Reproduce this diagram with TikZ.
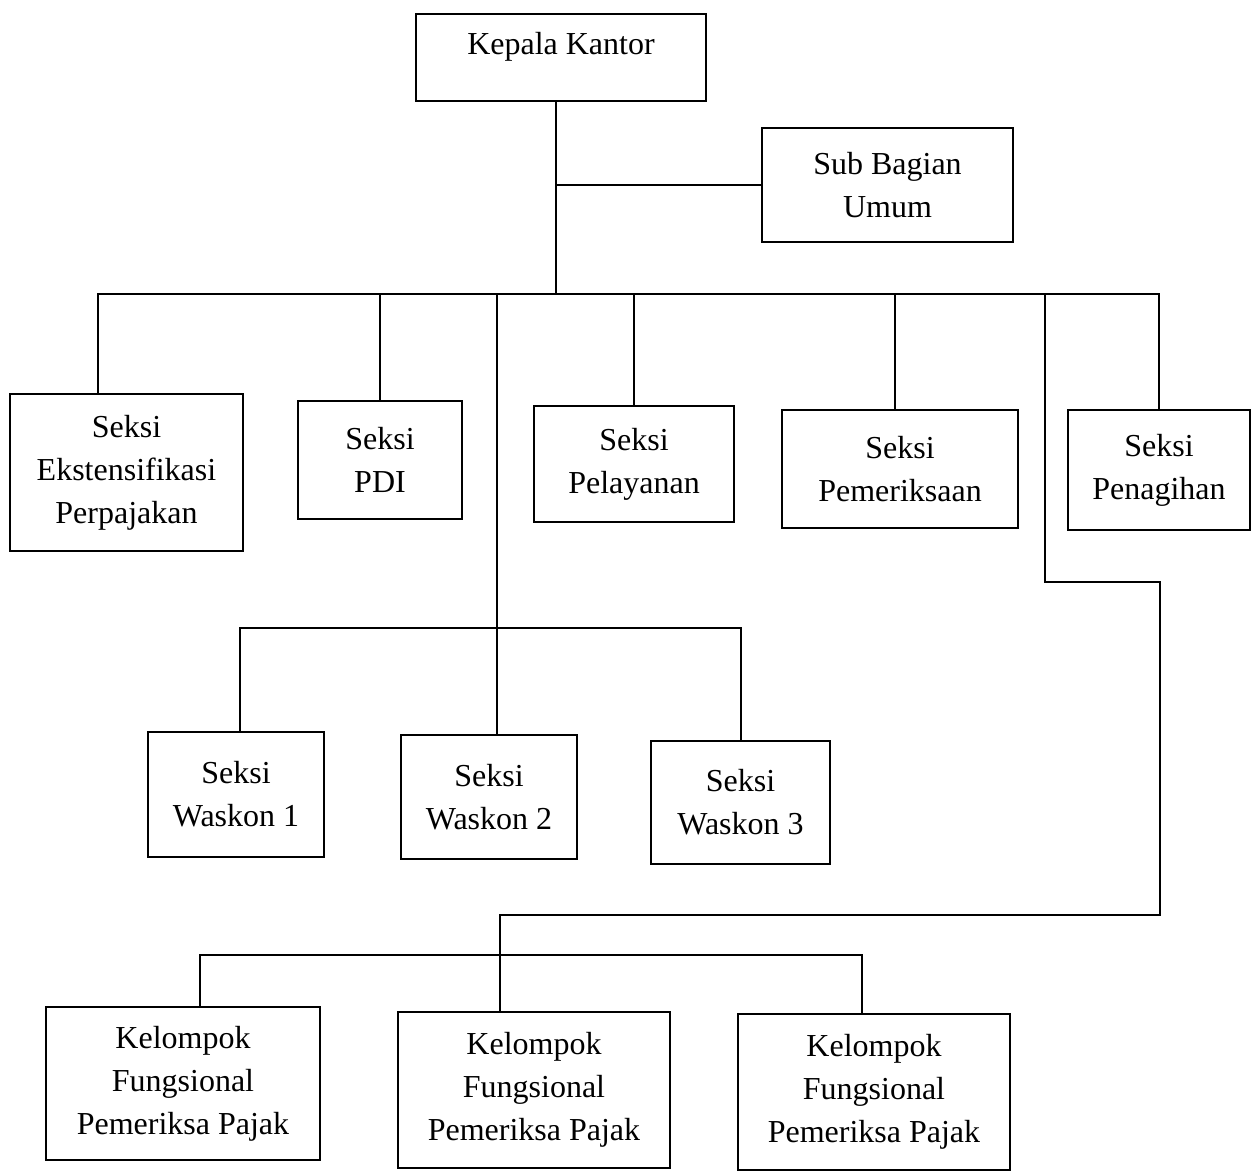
\documentclass[tikz,border=0pt]{standalone}
\usepackage{fontspec}
\setmainfont{Liberation Serif}
\begin{document}
\begin{tikzpicture}[x=0.5pt,y=-0.5pt,
  unit/.style={draw, line width=1.1pt, align=center, inner sep=0pt,
    font=\fontsize{16}{21.5}\selectfont},
  link/.style={line width=1pt}]
\useasboundingbox (0,0) rectangle (1253,1171);

% head office and support unit
\node[unit, minimum width=145pt, minimum height=43.5pt] (kk) at (561,57.5) {\raisebox{14pt}{Kepala Kantor}};
\node[unit, minimum width=125.5pt, minimum height=57pt] (sub) at (887.5,185) {Sub Bagian\\Umum};

% sections
\node[unit, minimum width=116.5pt, minimum height=78.5pt] (eks) at (126.5,472.5) {Seksi\\Ekstensifikasi\\Perpajakan};
\node[unit, minimum width=82pt, minimum height=59pt] (pdi) at (380,460) {Seksi\\PDI};
\node[unit, minimum width=100pt, minimum height=58pt] (pel) at (634,464) {Seksi\\Pelayanan};
\node[unit, minimum width=118pt, minimum height=59pt] (pem) at (900,469) {Seksi\\Pemeriksaan};
\node[unit, minimum width=91pt, minimum height=60pt] (pen) at (1159,470) {Seksi\\Penagihan};

% supervision sections
\node[unit, minimum width=88pt, minimum height=62.5pt] (w1) at (236,794.5) {Seksi\\Waskon 1};
\node[unit, minimum width=88pt, minimum height=62pt] (w2) at (489,797) {Seksi\\Waskon 2};
\node[unit, minimum width=89.5pt, minimum height=61.5pt] (w3) at (740.5,802.5) {Seksi\\Waskon 3};

% functional groups
\node[unit, minimum width=137pt, minimum height=76.5pt] (k1) at (183,1083.5) {Kelompok\\Fungsional\\Pemeriksa Pajak};
\node[unit, minimum width=136pt, minimum height=78pt] (k2) at (534,1090) {Kelompok\\Fungsional\\Pemeriksa Pajak};
\node[unit, minimum width=136pt, minimum height=78pt] (k3) at (874,1092) {Kelompok\\Fungsional\\Pemeriksa Pajak};

% junction points
\coordinate (j1) at (556,294);
\coordinate (t2) at (497,294);
\coordinate (wb) at (497,628);
\coordinate (t3) at (1045,294);
\coordinate (r1) at (1160,582);
\coordinate (r2) at (1160,915);
\coordinate (kb) at (500,955);

% main trunk and staff branch
\draw[link] ([xshift=-2.5pt]kk.south) -- (j1);
\draw[link] (sub.west -| j1) -- (sub.west);

% section bus
\draw[link] ([xshift=-14.25pt]eks.north) |- (j1) -| (pen.north);
\draw[link] (pdi.north) -- (pdi.north |- j1);
\draw[link] (pel.north) -- (pel.north |- j1);
\draw[link] ([xshift=-2.5pt]pem.north) -- ([xshift=-2.5pt]pem.north |- j1);

% supervision branch
\draw[link] (t2) -- (t2 |- w2.north);
\draw[link] ([xshift=2pt]w1.north) |- (wb) -| (w3.north);

% functional group branch
\draw[link] (t3) |- (r1) -- (r2) -| ([xshift=-17pt]k2.north);
\draw[link] ([xshift=8.5pt]k1.north) |- (kb) -| ([xshift=-6pt]k3.north);
\end{tikzpicture}
\end{document}
